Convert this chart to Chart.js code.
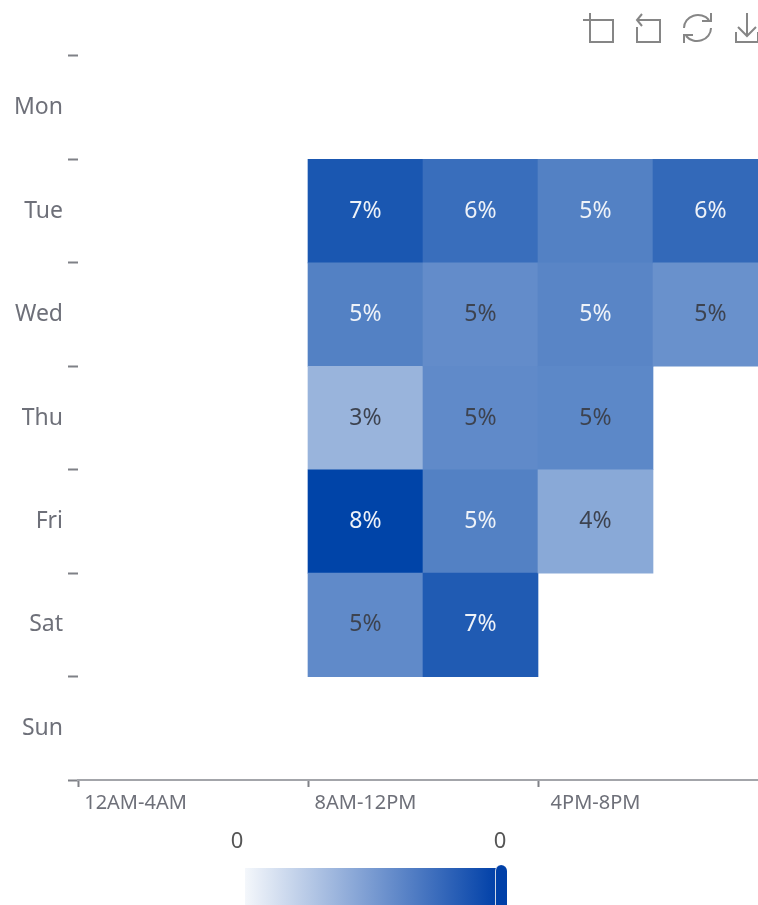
<!DOCTYPE html>
<html>
<head>
<meta charset="utf-8">
<title>Heatmap</title>
<script src="https://cdn.jsdelivr.net/npm/chart.js@4/dist/chart.umd.js"></script>
<style>
    html, body { margin: 0; height: 100%; background: #fff; overflow: hidden; }
    #wrap { position: relative; width: 758px; height: 905px; overflow: hidden; font-family: "Noto Sans", sans-serif; filter: blur(0.4px); }
    #heat { position: absolute; left: 0; top: 0; }
    .toolbox { position: absolute; left: 580px; top: 10px; }
    .vm-label { position: absolute; top: 825px; width: 30px; text-align: center; font-size: 22px; line-height: 28px; color: #555; }
    .vm-bar { position: absolute; left: 245px; top: 868px; width: 252px; height: 37px; background: linear-gradient(to right, #f4f7fb, #0040a8); }
    .vm-handle { position: absolute; left: 495px; top: 865px; width: 12px; height: 40px; background: #0040a8; border-radius: 6px 6px 0 0; border-left: 1px solid #cdd6e6; box-sizing: border-box; }
</style>
</head>
<body>
<div id="wrap">
    <canvas id="heat" width="800" height="905"></canvas>
    <svg class="toolbox" width="178" height="36" fill="none" stroke="#868686" stroke-width="2">
        <path d="M3 10H33V32H10V3"/>
        <path d="M57 10H80V32H57V17"/>
        <path d="M62 4L57 10L62 16"/>
        <path d="M104 18A14 13 0 0 1 129 10M131 18A14 13 0 0 1 106 26"/>
        <path d="M122 11H131V3M104 33V25H113"/>
        <path d="M156 22V32H178V22M167 3V26M158 17L167 26L176 17"/>
    </svg>
    <div class="vm-label" style="left: 222px;">0</div>
    <div class="vm-label" style="left: 485px;">0</div>
    <div class="vm-bar"></div>
    <div class="vm-handle"></div>
</div>
<script>
const days = ['Mon', 'Tue', 'Wed', 'Thu', 'Fri', 'Sat', 'Sun'];
const slots = ['12AM-4AM', '4AM-8AM', '8AM-12PM', '12PM-4PM', '4PM-8PM', '8PM-12AM'];

// percent per day, one array per time slot that has data
const morning = [null, 7.2, 5.4, 3.2, 8.0, 5.0, null];
const noon = [null, 6.2, 4.9, 5.0, 5.4, 7.0, null];
const afternoon = [null, 5.4, 5.2, 5.1, 3.7, null, null];
const evening = [null, 6.4, 4.7, null, null, null, null];

const visualMax = 8;
const whiteLabelFrom = 5.2;

const columns = [
    [slots[2], morning],
    [slots[3], noon],
    [slots[4], afternoon],
    [slots[5], evening],
];

const cells = [];
columns.forEach(([slot, values]) => {
    values.forEach((value, row) => {
        if (value !== null) {
            cells.push({ x: slot, y: [row, row + 1], value });
        }
    });
});

const cellColor = (value) => {
    const t = Math.min(value / visualMax, 1);
    const r = Math.round(255 + (0 - 255) * t);
    const g = Math.round(255 + (68 - 255) * t);
    const b = Math.round(255 + (168 - 255) * t);
    return `rgb(${r}, ${g}, ${b})`;
};

// no matrix plugin around, so the percent labels go on top of the bars here
const cellLabels = {
    id: 'cellLabels',
    afterDatasetsDraw(chart) {
        const ctx = chart.ctx;
        const bars = chart.getDatasetMeta(0).data;
        ctx.save();
        ctx.font = '23px "Noto Sans", sans-serif';
        ctx.textAlign = 'center';
        ctx.textBaseline = 'middle';
        bars.forEach((bar, i) => {
            const value = cells[i].value;
            const pos = bar.getCenterPoint();
            ctx.fillStyle = value >= whiteLabelFrom ? '#eef2f8' : '#3d4350';
            ctx.fillText(Math.round(value) + '%', pos.x, pos.y);
        });
        ctx.restore();
    },
};

new Chart(document.getElementById('heat'), {
    type: 'bar',
    data: {
        labels: slots,
        datasets: [
            {
                data: cells,
                yAxisID: 'y',
                parsing: { xAxisKey: 'x', yAxisKey: 'y' },
                barPercentage: 1,
                categoryPercentage: 1,
                backgroundColor: cells.map((c) => cellColor(c.value)),
                borderWidth: 0,
            },
        ],
    },
    options: {
        responsive: false,
        animation: false,
        layout: { padding: { top: 56, right: 32, left: 0, bottom: 0 } },
        plugins: {
            legend: { display: false },
            tooltip: { enabled: false },
        },
        scales: {
            x: {
                type: 'category',
                offset: true,
                afterFit(scale) {
                    scale.height = 125;
                },
                grid: {
                    offset: true,
                    drawOnChartArea: false,
                    tickLength: 7,
                    tickWidth: 2,
                    tickColor: (c) => (c.index % 2 === 0 ? '#7f8187' : 'rgba(0,0,0,0)'),
                },
                border: { color: '#a3a5aa', width: 2 },
                ticks: {
                    autoSkip: false,
                    maxRotation: 0,
                    padding: 4,
                    color: '#6e7079',
                    font: { size: 20, family: '"Noto Sans", sans-serif' },
                    callback(value, index) {
                        return index % 2 === 0 ? slots[index] : '';
                    },
                },
            },
            y: {
                type: 'linear',
                display: false,
                reverse: true,
                min: 0,
                max: days.length,
            },
            yDays: {
                type: 'category',
                position: 'left',
                labels: days,
                offset: true,
                afterFit(scale) {
                    scale.width = 78;
                },
                grid: {
                    offset: true,
                    drawOnChartArea: false,
                    tickLength: 10,
                    tickWidth: 2,
                    tickColor: '#7f8187',
                },
                border: { display: false },
                ticks: {
                    autoSkip: false,
                    padding: 5,
                    color: '#6e7079',
                    font: { size: 23, family: '"Noto Sans", sans-serif' },
                },
            },
        },
    },
    plugins: [cellLabels],
});
</script>
</body>
</html>
